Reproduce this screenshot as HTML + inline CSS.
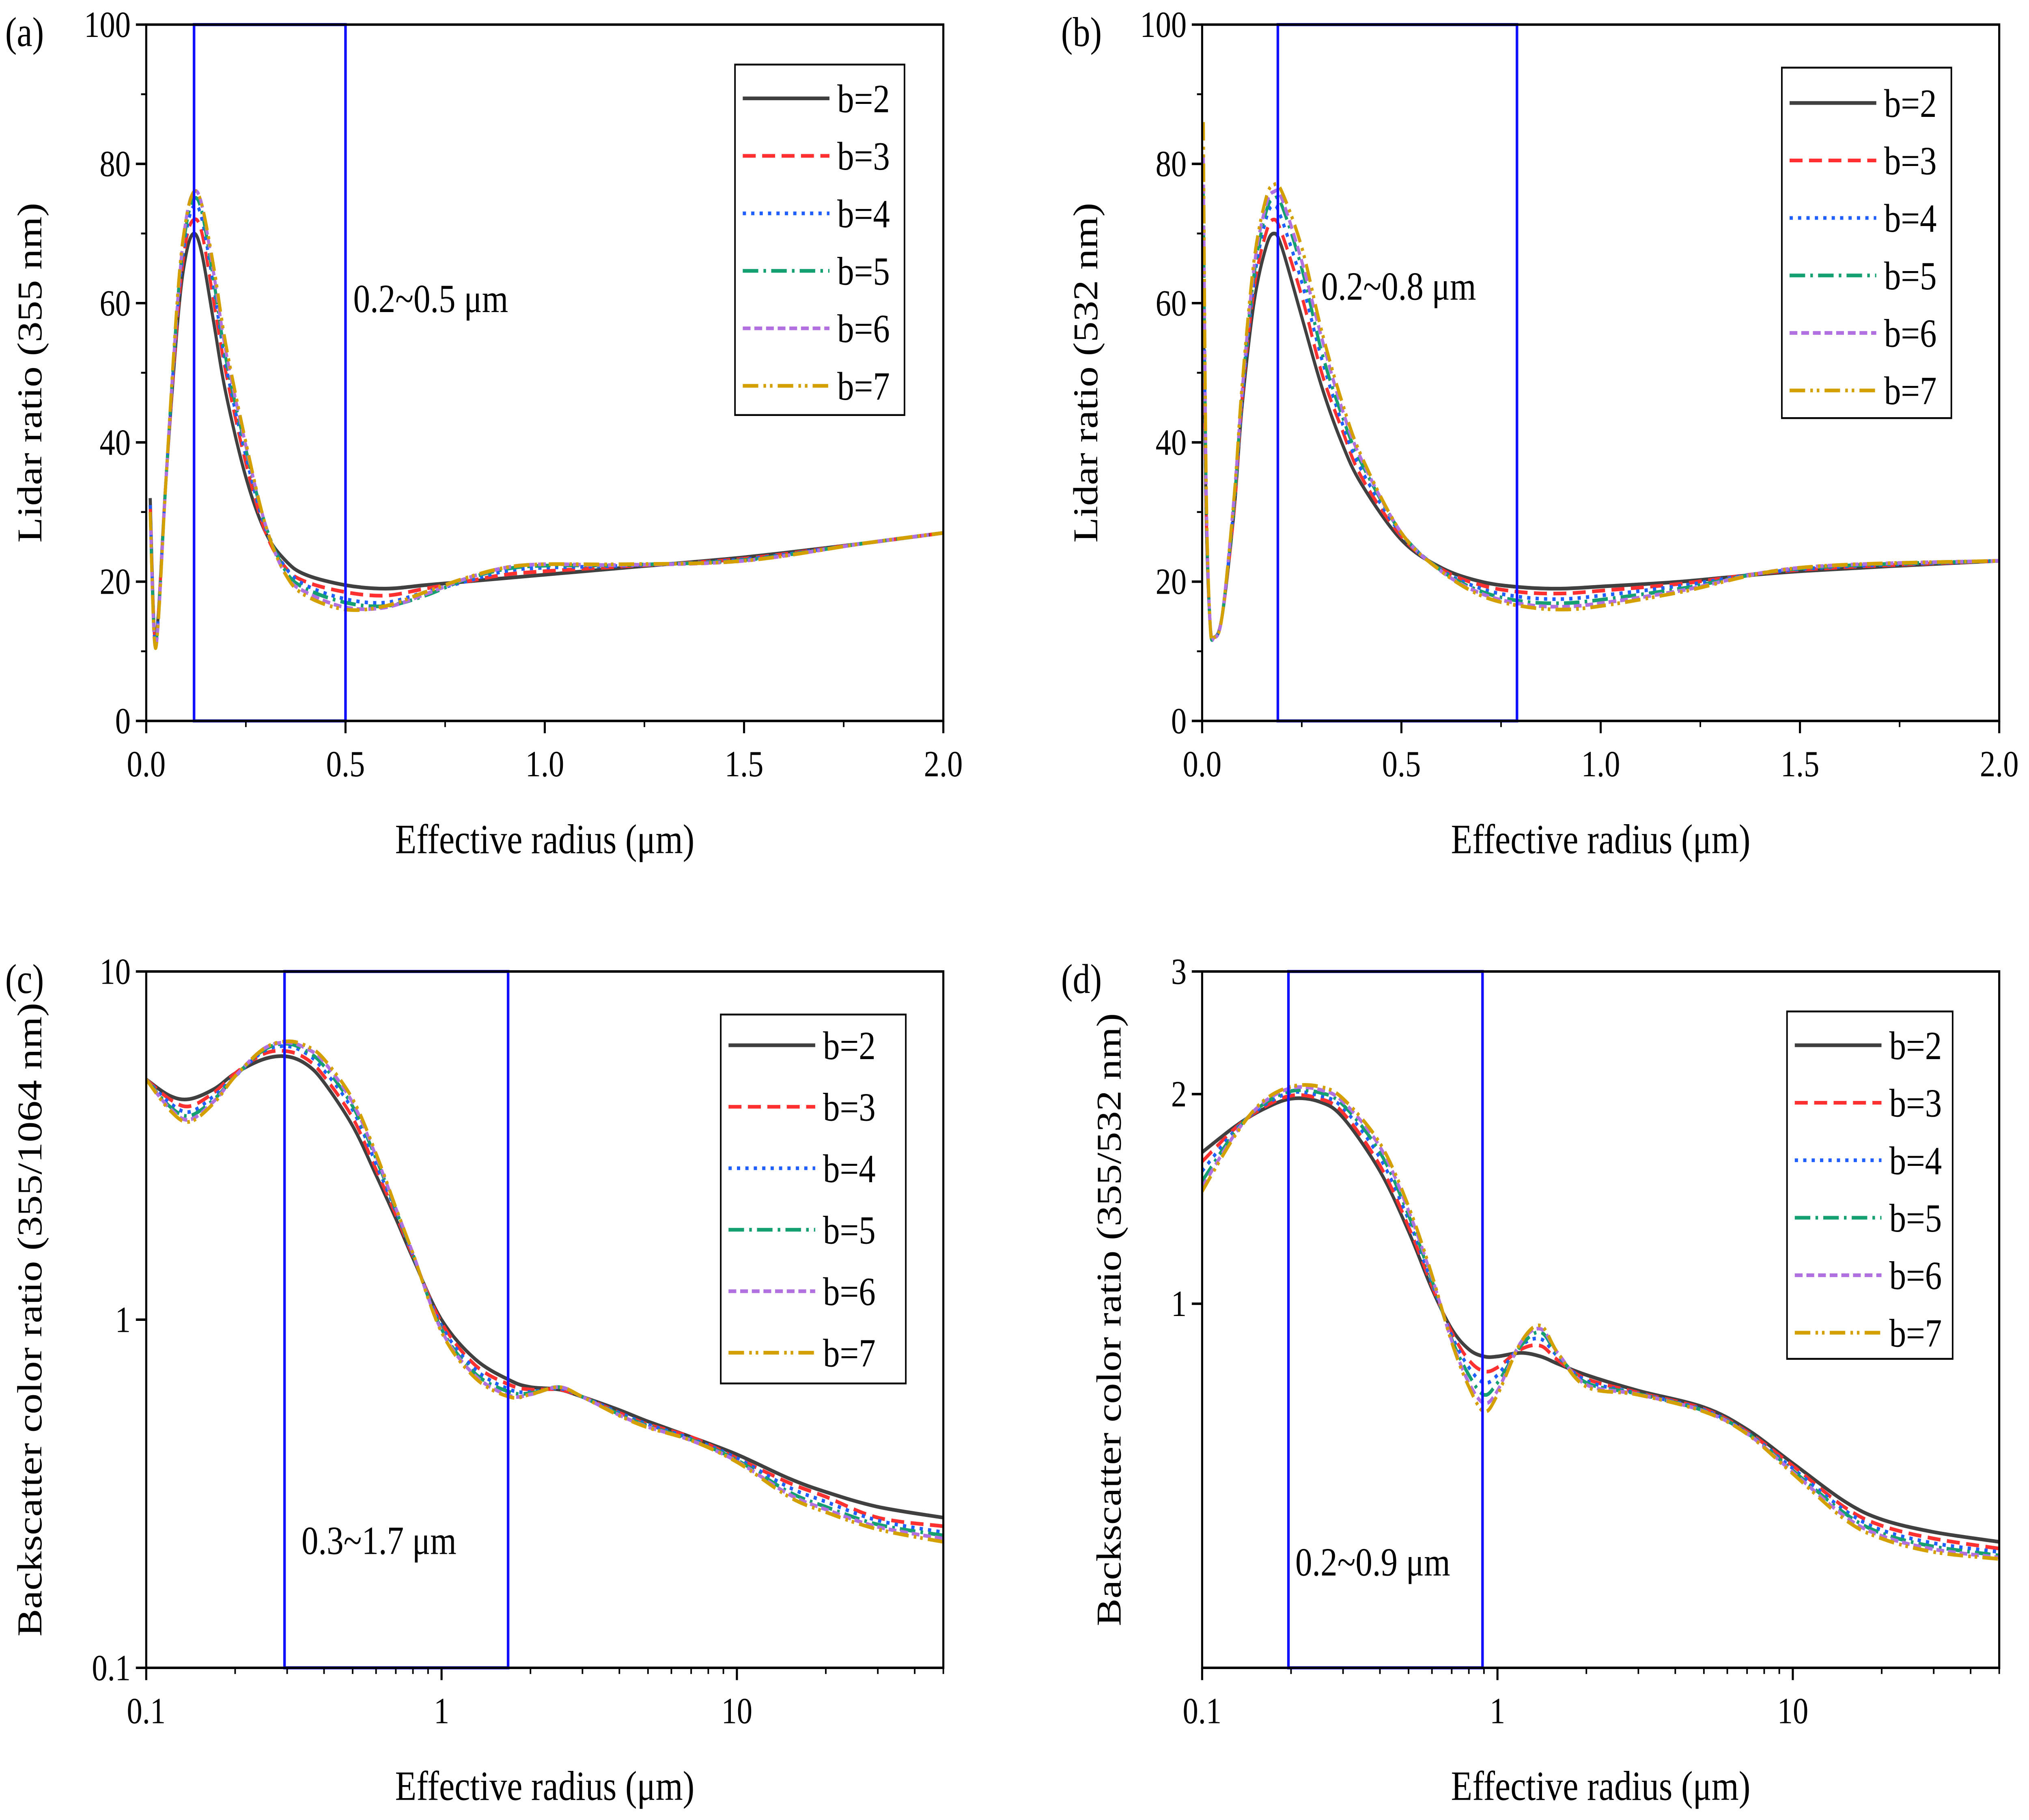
<!DOCTYPE html>
<html><head><meta charset="utf-8"><style>
html,body{margin:0;padding:0;background:#fff;width:100vw;height:100vh;overflow:hidden;}
svg{display:block;font-family:"Liberation Serif",serif;width:100vw;height:100vh;}
</style></head><body>
<svg id="fig" xmlns="http://www.w3.org/2000/svg" viewBox="0 0 1568 1184" preserveAspectRatio="none">
<rect x="0" y="0" width="1568" height="1184" fill="#fff"/>
</svg>
<script>
// ---- data ----
const seriesNames = ["b=2","b=3","b=4","b=5","b=6","b=7"];
const xA = [0.01,0.02,0.03,0.05,0.08,0.1,0.12,0.14,0.17,0.2,0.25,0.3,0.35,0.4,0.5,0.6,0.7,0.8,0.9,1.0,1.2,1.5,1.8,2.0];
const aB2 = [32,13,15,35,58,67,70,67,57,47,35,27,23,21,19.5,19,19.5,20,20.5,21,22,23.5,25.5,27];
const aB3 = [31,13,15,35,59,69,72,70,60,50,37,27,22,20,18.5,18,19,20,21,21.5,22.2,23.3,25.5,27];
const aB4 = [31,12.5,14.5,35,60,70,74,72,62,51,38,27.5,22,19.5,17.5,17,18.5,20,21.5,22,22.3,23.2,25.5,27];
const aB5 = [30,12.5,14.5,35,61,71,75,73,63,52,39,28,21.5,19,17,16.5,18,20.3,21.8,22.3,22.4,23.1,25.5,27];
const aB6 = [30,12,14,35,61,72,76,74,64,53,39.5,28,21,18.5,16.3,16.3,18.2,20.4,22,22.5,22.4,23,25.5,27];
const aB7 = [30,12,14,35,62,72,76,74,65,54,40,28,21,18,16,16.5,18.5,20.5,22,22.5,22.5,23,25.5,27];

const xB = [0.003,0.01,0.02,0.03,0.05,0.08,0.1,0.13,0.16,0.18,0.2,0.25,0.3,0.35,0.4,0.5,0.6,0.7,0.8,0.9,1.0,1.2,1.5,2.0];
const bB2 = [60,30,14,12,15,30,45,60,68,70,68,58,48,40,34,26,22,20,19.2,19,19.3,20,21.5,23];
const bB3 = [66,31,14,12,15,30,46,62,70,72,70,61,50,42,35,26.5,21.8,19.5,18.5,18.3,18.7,19.7,21.7,23];
const bB4 = [72,32,14,12,15,31,46,63,72,74,72,63,52,43,36,26.8,21.7,19,17.8,17.5,18,19.4,21.8,23];
const bB5 = [76,33,14,12,15,31,47,64,73,75,74,65,53,44,37,27,21.6,18.6,17.2,16.9,17.4,19,21.9,23];
const bB6 = [81,34,14,12,15,32,47,65,74,76,75,66,55,45,37.5,27,21.5,18.3,16.8,16.4,16.9,18.7,22,23];
const bB7 = [86,35,14,12,15,32,48,66,75,77,76,68,56,46,38,27,21.5,18,16.5,16,16.5,18.5,22,23];

const xC = [0.1,0.12,0.14,0.17,0.2,0.25,0.3,0.35,0.4,0.5,0.6,0.7,0.8,1.0,1.3,1.7,2,2.5,3,4,5,7,10,15,20,30,50];
const cB2 = [4.9,4.4,4.3,4.6,5.1,5.6,5.7,5.4,4.8,3.6,2.6,1.95,1.5,1.0,0.77,0.67,0.64,0.63,0.6,0.55,0.51,0.46,0.41,0.35,0.32,0.29,0.27];
const cB3 = [4.9,4.3,4.1,4.5,5.1,5.8,5.9,5.6,5.0,3.8,2.7,2.0,1.52,0.98,0.74,0.65,0.63,0.63,0.6,0.54,0.5,0.46,0.4,0.34,0.31,0.27,0.255];
const cB4 = [4.9,4.2,3.95,4.4,5.0,5.9,6.1,5.8,5.2,4.0,2.8,2.05,1.53,0.96,0.72,0.63,0.62,0.635,0.6,0.54,0.5,0.455,0.4,0.33,0.3,0.265,0.245];
const cB5 = [4.9,4.1,3.85,4.3,5.0,5.95,6.2,5.9,5.35,4.1,2.9,2.07,1.54,0.94,0.7,0.62,0.615,0.64,0.6,0.535,0.495,0.452,0.395,0.32,0.29,0.258,0.24];
const cB6 = [4.9,4.05,3.75,4.25,5.0,6.0,6.25,6.0,5.5,4.2,2.95,2.09,1.55,0.93,0.69,0.605,0.61,0.64,0.6,0.532,0.492,0.45,0.392,0.315,0.285,0.254,0.235];
const cB7 = [4.9,4.0,3.7,4.2,5.0,6.0,6.3,6.1,5.6,4.3,3.0,2.1,1.55,0.92,0.68,0.6,0.61,0.64,0.6,0.53,0.49,0.45,0.39,0.31,0.28,0.25,0.23];

const xD = [0.1,0.13,0.16,0.2,0.25,0.3,0.4,0.5,0.6,0.7,0.8,0.9,1.0,1.2,1.4,1.6,2,3,5,7,10,15,20,30,50];
const dB2 = [1.65,1.8,1.9,1.97,1.95,1.85,1.55,1.27,1.05,0.92,0.86,0.84,0.84,0.85,0.84,0.82,0.79,0.75,0.71,0.66,0.59,0.52,0.49,0.47,0.455];
const dB3 = [1.6,1.79,1.91,1.99,1.97,1.88,1.58,1.29,1.06,0.91,0.83,0.8,0.81,0.86,0.87,0.83,0.78,0.745,0.706,0.655,0.585,0.51,0.48,0.46,0.445];
const dB4 = [1.55,1.78,1.92,2.01,1.99,1.91,1.62,1.32,1.07,0.9,0.81,0.77,0.79,0.87,0.89,0.84,0.775,0.743,0.704,0.653,0.58,0.505,0.473,0.453,0.44];
const dB5 = [1.5,1.77,1.93,2.02,2.01,1.93,1.65,1.34,1.08,0.89,0.79,0.74,0.77,0.87,0.91,0.845,0.77,0.742,0.702,0.652,0.576,0.5,0.468,0.448,0.435];
const dB6 = [1.47,1.76,1.94,2.04,2.03,1.95,1.68,1.36,1.09,0.885,0.77,0.72,0.75,0.88,0.92,0.85,0.765,0.741,0.701,0.651,0.573,0.495,0.464,0.444,0.432];
const dB7 = [1.45,1.75,1.95,2.05,2.05,1.97,1.7,1.38,1.1,0.88,0.76,0.7,0.74,0.88,0.93,0.85,0.76,0.74,0.7,0.65,0.57,0.49,0.46,0.44,0.43];

const ticksLin = ["0.0","0.5","1.0","1.5","2.0"];
const ticksLinY = ["0","20","40","60","80","100"];
const ticksLogX = ["0.1","1","10"];
const ticksLogYc = ["0.1","1","10"];
const ticksLogYd = ["1","2","3"];
const ranges = ["0.2~0.5 μm","0.2~0.8 μm","0.3~1.7 μm","0.2~0.9 μm"];

// ---- drawing ----
const NS="http://www.w3.org/2000/svg";
const svg=document.getElementById('fig');
const colors=["#404040","#ff3030","#1f5fff","#14a070","#b070e0","#d4a000"];
const dashes=["","10,5","2.5,4","12,4,2,4","6,3","12,4,2,3,2,4"];
function mk(tag,attrs,parent){const e=document.createElementNS(NS,tag);for(const k in attrs)e.setAttribute(k,attrs[k]);(parent||svg).appendChild(e);return e;}
function smooth(pts){let d="M"+pts[0][0].toFixed(2)+","+pts[0][1].toFixed(2);
 for(let i=0;i<pts.length-1;i++){const p0=pts[Math.max(0,i-1)],p1=pts[i],p2=pts[i+1],p3=pts[Math.min(pts.length-1,i+2)];
 const c1=[p1[0]+(p2[0]-p0[0])/6,p1[1]+(p2[1]-p0[1])/6],c2=[p2[0]-(p3[0]-p1[0])/6,p2[1]-(p3[1]-p1[1])/6];
 d+="C"+c1[0].toFixed(2)+","+c1[1].toFixed(2)+" "+c2[0].toFixed(2)+","+c2[1].toFixed(2)+" "+p2[0].toFixed(2)+","+p2[1].toFixed(2);}return d;}

function panel(cfg){
 const g=mk('g',{});
 
 
 const L=cfg.x0,R=cfg.x1,T=cfg.y0,B=cfg.y1;
 const sx=cfg.xlog?(v=>L+(Math.log10(v)-Math.log10(cfg.xmin))/(Math.log10(cfg.xmax)-Math.log10(cfg.xmin))*(R-L)):(v=>L+(v-cfg.xmin)/(cfg.xmax-cfg.xmin)*(R-L));
 const sy=cfg.ylog?(v=>B-(Math.log10(v)-Math.log10(cfg.ymin))/(Math.log10(cfg.ymax)-Math.log10(cfg.ymin))*(B-T)):(v=>B-(v-cfg.ymin)/(cfg.ymax-cfg.ymin)*(B-T));
 const cp=mk('clipPath',{id:'clip'+cfg.id},g);mk('rect',{x:L,y:T,width:R-L,height:B-T},cp);
 const cg=mk('g',{'clip-path':'url(#clip'+cfg.id+')'},g);
 cfg.series.forEach((ys,i)=>{const pts=cfg.xs.map((x,j)=>[sx(x),sy(ys[j])]);
  const p=mk('path',{d:smooth(pts),fill:'none',stroke:colors[i],'stroke-width':2.4,'stroke-dasharray':dashes[i]},cg);
  
  });
 const br=mk('rect',{x:sx(cfg.box[0]),y:T,width:sx(cfg.box[1])-sx(cfg.box[0]),height:B-T,fill:'none',stroke:'#1010ff','stroke-width':2},g);
 
 
 const rt=mk('text',{x:cfg.boxText[0],y:cfg.boxText[1],'font-size':26},g);rt.textContent=cfg.range;
 
 
 const fr=mk('rect',{x:L,y:T,width:R-L,height:B-T,fill:'none',stroke:'#000','stroke-width':1.6},g);
 
 
 cfg.xt.forEach(t=>{const X=sx(parseFloat(t));mk('line',{x1:X,x2:X,y1:B,y2:B+8,stroke:'#000','stroke-width':1.6},g);
  const tx=mk('text',{x:X,y:B+36,'font-size':24,'text-anchor':'middle'},g);tx.textContent=t;
  
  });
 if(cfg.xlog){for(let d=-1;d<=1;d++)for(let m=2;m<=9;m++){const v=m*Math.pow(10,d);if(v<=cfg.xmax){const X=sx(v);mk('line',{x1:X,x2:X,y1:B,y2:B+4,stroke:'#000','stroke-width':1.2},g);}}}
 else{for(let v=0.25;v<2;v+=0.5){const X=sx(v);mk('line',{x1:X,x2:X,y1:B,y2:B+4,stroke:'#000','stroke-width':1.2},g);}}
 cfg.yt.forEach(t=>{const Y=sy(parseFloat(t));mk('line',{x1:L-8,x2:L,y1:Y,y2:Y,stroke:'#000','stroke-width':1.6},g);
  const tx=mk('text',{x:L-12,y:Y+8,'font-size':24,'text-anchor':'end'},g);tx.textContent=t;
  
  });
 if(!cfg.ylog){for(let v=10;v<100;v+=20){const Y=sy(v);mk('line',{x1:L-4,x2:L,y1:Y,y2:Y,stroke:'#000','stroke-width':1.2},g);}}
 const xtT=mk('text',{x:(L+R)/2,y:B+86,'font-size':27,'text-anchor':'middle'},g);xtT.textContent='Effective radius (μm)';
 
 
 const ytT=mk('text',{x:0,y:0,'font-size':27,'text-anchor':'middle',transform:'translate('+(cfg.ytx)+','+((T+B)/2)+') rotate(-90)'},g);ytT.textContent=cfg.ytitle;
 
 
 const pl=mk('text',{x:cfg.lx,y:T+14,'font-size':27},g);pl.textContent=cfg.label;
 
 
 const lg=mk('g',{},g);
 
 
 const lb=cfg.leg;
 mk('rect',{x:lb.x,y:lb.y,width:lb.w,height:lb.h,fill:'#fff',stroke:'#000','stroke-width':1.2},lg);
 seriesNames.forEach((n,i)=>{const Y=lb.y0+i*lb.dy;
  const e=mk('g',{},lg);
  
  
  mk('line',{x1:lb.x+6,x2:lb.x+73,y1:Y,y2:Y,stroke:colors[i],'stroke-width':2.4,'stroke-dasharray':dashes[i]},e);
  const t=mk('text',{x:lb.x+79,y:Y+9,'font-size':26},e);t.textContent=n;});
}
panel({id:'a',label:'(a)',lx:4,x0:113,x1:729,y0:16,y1:469,xmin:0,xmax:2,ymin:0,ymax:100,xs:xA,series:[aB2,aB3,aB4,aB5,aB6,aB7],
 box:[0.12,0.5],boxText:[273,203],range:ranges[0],xt:ticksLin,yt:ticksLinY,ytitle:'Lidar ratio (355 nm)',ytx:32,
 leg:{x:568,y:42,w:131,h:228,y0:64,dy:37.4}});
panel({id:'b',label:'(b)',lx:820,x0:929,x1:1545,y0:16,y1:469,xmin:0,xmax:2,ymin:0,ymax:100,xs:xB,series:[bB2,bB3,bB4,bB5,bB6,bB7],
 box:[0.19,0.79],boxText:[1021,195],range:ranges[1],xt:ticksLin,yt:ticksLinY,ytitle:'Lidar ratio (532 nm)',ytx:848,
 leg:{x:1377,y:44,w:131,h:228,y0:67,dy:37.4}});
panel({id:'c',label:'(c)',lx:4,x0:113,x1:729,y0:632,y1:1085,xlog:true,ylog:true,xmin:0.1,xmax:50,ymin:0.1,ymax:10,xs:xC,series:[cB2,cB3,cB4,cB5,cB6,cB7],
 box:[0.294,1.68],boxText:[233,1011],range:ranges[2],xt:ticksLogX,yt:ticksLogYc,ytitle:'Backscatter color ratio (355/1064 nm)',ytx:32,
 leg:{x:557,y:660,w:143,h:240,y0:680,dy:40}});
panel({id:'d',label:'(d)',lx:820,x0:929,x1:1545,y0:632,y1:1085,xlog:true,ylog:true,xmin:0.1,xmax:50,ymin:0.3,ymax:3,xs:xD,series:[dB2,dB3,dB4,dB5,dB6,dB7],
 box:[0.196,0.89],boxText:[1001,1025],range:ranges[3],xt:ticksLogX,yt:ticksLogYd,ytitle:'Backscatter color ratio (355/532 nm)',ytx:866,
 leg:{x:1381,y:658,w:128,h:226,y0:680,dy:37.4}});
</script>
</body></html>
